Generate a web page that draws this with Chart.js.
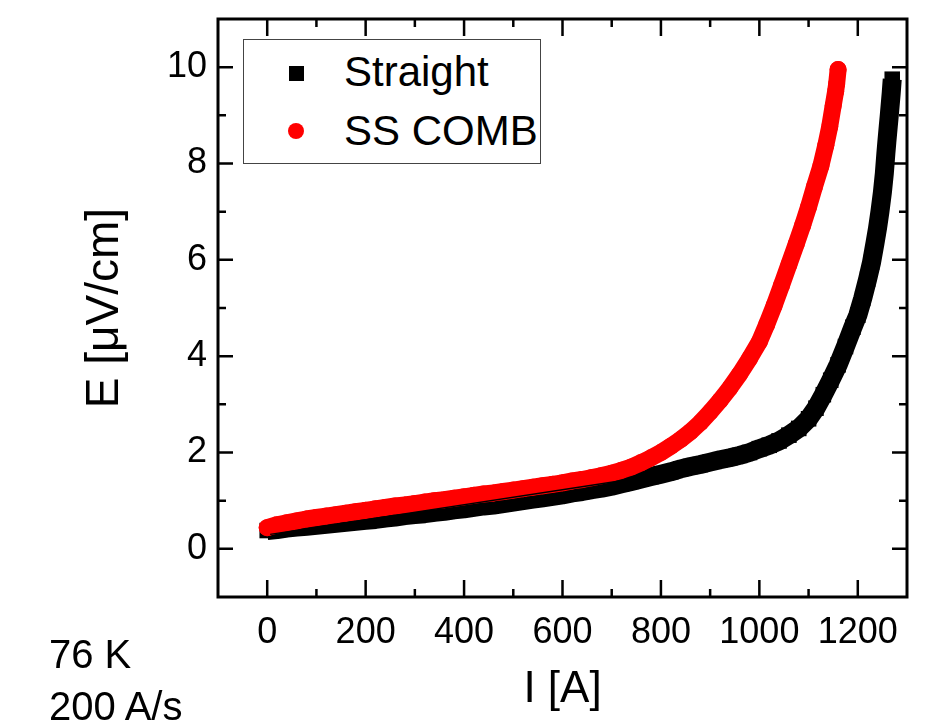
<!DOCTYPE html>
<html>
<head>
<meta charset="utf-8">
<script src="https://cdn.jsdelivr.net/npm/chart.js@4.4.0/dist/chart.umd.min.js"></script>
<style>
  body { margin: 0; background: #fff; font-family: "Liberation Sans", Arial, sans-serif; }
  #wrap { position: relative; width: 943px; height: 721px; overflow: hidden; }
  #chart { position: absolute; left: 0; top: 0; }
  #legend { position: absolute; left: 243px; top: 39px; width: 296px; height: 123px; border: 1.5px solid #444; background: #fff; }
  .mark { position: absolute; }
  .sq { left: 289px; top: 66px; width: 15px; height: 15px; background: #000; }
  .dot { left: 288px; top: 123px; width: 16px; height: 16px; background: #ff0000; border-radius: 50%; }
  .lbl { position: absolute; left: 344px; font-size: 42px; line-height: 42px; color: #000; white-space: nowrap; }
  .note { position: absolute; left: 49px; font-size: 40px; line-height: 40px; color: #000; white-space: nowrap; }
</style>
</head>
<body>
<div id="wrap">
  <canvas id="chart" width="943" height="721"></canvas>
  <div id="legend"></div>
  <div class="mark sq"></div>
  <div class="mark dot"></div>
  <div class="lbl" style="top:51px">Straight</div>
  <div class="lbl" style="top:110px">SS COMB</div>
  <div class="note" style="top:634px">76 K</div>
  <div class="note" style="top:686px">200 A/s</div>
</div>
<script>
// Straight (black squares)
const straightI = [0, 20, 40, 60, 80, 100, 120, 140, 160, 180, 200, 220, 240, 260, 280, 300,
  320, 340, 360, 380, 400, 420, 440, 460, 480, 500, 520, 540, 560, 580, 600, 620, 640, 660,
  680, 700, 720, 740, 760, 780, 800, 820, 840, 860, 880, 900, 920, 940, 960, 980, 1000, 1020,
  1040, 1060, 1080, 1100, 1115, 1130, 1145, 1160, 1175, 1190, 1200, 1210, 1220, 1228, 1235,
  1240, 1245, 1250, 1254, 1257, 1259, 1262, 1264, 1268, 1270];
const straightE = [0.38, 0.40, 0.43, 0.45, 0.47, 0.49, 0.51, 0.53, 0.55, 0.57, 0.59, 0.61, 0.64,
  0.66, 0.69, 0.71, 0.73, 0.76, 0.78, 0.81, 0.83, 0.86, 0.89, 0.91, 0.94, 0.97, 1.00, 1.03, 1.06,
  1.09, 1.12, 1.16, 1.19, 1.23, 1.26, 1.30, 1.35, 1.40, 1.45, 1.50, 1.55, 1.60, 1.66, 1.71, 1.75,
  1.80, 1.85, 1.89, 1.94, 2.00, 2.08, 2.15, 2.24, 2.36, 2.50, 2.70, 2.92, 3.20, 3.50, 3.82, 4.20,
  4.60, 4.85, 5.20, 5.60, 5.95, 6.35, 6.65, 7.00, 7.40, 7.80, 8.20, 8.44, 8.78, 9.00, 9.47, 9.75];

// SS COMB (red circles)
const combI = [0, 20, 40, 60, 80, 100, 120, 140, 160, 180, 200, 220, 240, 260, 280, 300, 320,
  340, 360, 380, 400, 420, 440, 460, 480, 500, 520, 540, 560, 580, 600, 620, 640, 660, 680, 700,
  720, 740, 760, 780, 800, 820, 840, 860, 880, 900, 920, 940, 960, 980, 1000, 1015, 1030, 1045,
  1060, 1075, 1088, 1100, 1112, 1125, 1135, 1143, 1150, 1155, 1157, 1160];
const combE = [0.44, 0.50, 0.54, 0.58, 0.62, 0.65, 0.68, 0.71, 0.74, 0.77, 0.80, 0.83, 0.86, 0.89,
  0.91, 0.94, 0.97, 1.00, 1.02, 1.05, 1.08, 1.11, 1.14, 1.16, 1.19, 1.22, 1.25, 1.28, 1.31, 1.34,
  1.37, 1.41, 1.44, 1.48, 1.52, 1.57, 1.63, 1.70, 1.79, 1.89, 2.00, 2.13, 2.27, 2.43, 2.62, 2.84,
  3.08, 3.34, 3.63, 3.95, 4.30, 4.66, 5.05, 5.47, 5.90, 6.33, 6.72, 7.10, 7.52, 7.95, 8.38, 8.77,
  9.20, 9.50, 9.65, 9.95];

// thin straight line over the low-current part
const fitI = [6, 729];
const fitE = [0.30, 1.43];

const xTickValues = [0, 200, 400, 600, 800, 1000, 1200];
const yTickValues = [0, 2, 4, 6, 8, 10];

const family = "'Liberation Sans', Arial, sans-serif";

function toPoints(xs, ys) {
  return xs.map((v, i) => ({ x: v, y: ys[i] }));
}

// frame and inward ticks on all four sides
const frameTicks = {
  id: 'frameTicks',
  afterDatasetsDraw(chart) {
    const { ctx, chartArea: a, scales: { x, y } } = chart;
    ctx.save();
    ctx.strokeStyle = '#000';
    ctx.lineWidth = 2.5;

    const tickX = (v, len) => {
      const px = x.getPixelForValue(v);
      ctx.beginPath();
      ctx.moveTo(px, a.bottom); ctx.lineTo(px, a.bottom - len);
      ctx.moveTo(px, a.top); ctx.lineTo(px, a.top + len);
      ctx.stroke();
    };
    const tickY = (v, len) => {
      const py = y.getPixelForValue(v);
      ctx.beginPath();
      ctx.moveTo(a.left, py); ctx.lineTo(a.left + len, py);
      ctx.moveTo(a.right, py); ctx.lineTo(a.right - len, py);
      ctx.stroke();
    };

    x.ticks.forEach((t, i) => {
      tickX(t.value, 17);
      if (i > 0) tickX((t.value + x.ticks[i - 1].value) / 2, 8);
    });
    y.ticks.forEach((t, i) => {
      tickY(t.value, 15);
      if (i > 0) tickY((t.value + y.ticks[i - 1].value) / 2, 8);
    });

    ctx.lineWidth = 3;
    ctx.strokeRect(a.left, a.top, a.right - a.left, a.bottom - a.top);
    ctx.restore();
  }
};

const ctx = document.getElementById('chart').getContext('2d');
new Chart(ctx, {
  type: 'scatter',
  data: {
    datasets: [
      {
        label: 'fit',
        data: toPoints(fitI, fitE),
        showLine: true,
        borderColor: '#000',
        borderWidth: 1.5,
        pointRadius: 0,
        order: 0
      },
      {
        label: 'SS COMB',
        data: toPoints(combI, combE),
        showLine: true,
        borderColor: '#ff0000',
        borderWidth: 17,
        borderCapStyle: 'round',
        borderJoinStyle: 'round',
        pointStyle: 'circle',
        pointRadius: 8.5,
        pointBackgroundColor: '#ff0000',
        pointBorderWidth: 0,
        order: 1
      },
      {
        label: 'Straight',
        data: toPoints(straightI, straightE),
        showLine: true,
        borderColor: '#000',
        borderWidth: 19,
        borderJoinStyle: 'round',
        pointStyle: 'rect',
        pointRadius: 11,
        pointBackgroundColor: '#000',
        pointBorderWidth: 0,
        order: 2
      }
    ]
  },
  options: {
    responsive: false,
    animation: false,
    layout: { padding: { left: 0, right: 36, top: 19, bottom: 0 } },
    plugins: {
      legend: { display: false },
      tooltip: { enabled: false }
    },
    scales: {
      x: {
        type: 'linear',
        min: -100,
        max: 1300,
        afterBuildTicks: s => { s.ticks = xTickValues.map(v => ({ value: v })); },
        afterFit: s => { s.height = 124; s.paddingLeft = 0; s.paddingRight = 0; },
        grid: { display: false, drawTicks: false },
        border: { display: false },
        ticks: { color: '#000', font: { family, size: 36 }, padding: 14, maxRotation: 0, autoSkip: false, callback: v => String(v) },
        title: { display: true, text: 'I [A]', color: '#000', font: { family, size: 44 }, padding: { top: 0, bottom: 5 } }
      },
      y: {
        type: 'linear',
        min: -1,
        max: 11,
        afterBuildTicks: s => { s.ticks = yTickValues.map(v => ({ value: v })); },
        afterFit: s => { s.width = 218; s.paddingTop = 0; s.paddingBottom = 0; },
        grid: { display: false, drawTicks: false },
        border: { display: false },
        ticks: { color: '#000', font: { family, size: 36 }, padding: 11, autoSkip: false, callback: v => String(v) },
        title: { display: true, text: 'E [\u03bcV/cm]', color: '#000', font: { family, size: 46 }, padding: { top: 78, bottom: 0 } }
      }
    }
  },
  plugins: [frameTicks]
});
</script>
</body>
</html>
